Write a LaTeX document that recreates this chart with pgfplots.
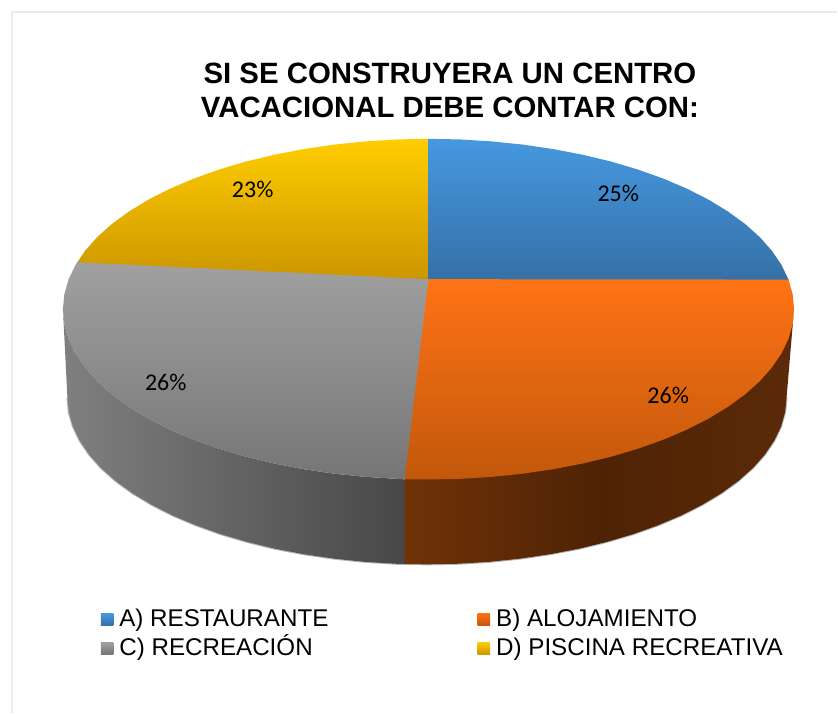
\documentclass[border=0pt]{standalone}
\usepackage{fontspec}
\setmainfont{Liberation Sans}
\newfontfamily\lblfont{Carlito}
\usepackage{pgfplots}
\pgfplotsset{compat=1.18}
\definecolor{frameC}{HTML}{E8EDF2}
\begin{document}
\begin{tikzpicture}
\begin{axis}[
  x=1pt,y=1pt,
  xmin=0,xmax=838,ymin=0,ymax=714,
  y dir=reverse,
  hide axis,clip=false,
  scale only axis,
  title={SI SE CONSTRUYERA UN CENTRO\\VACACIONAL DEBE CONTAR CON:},
  title style={at={(axis cs:450.5,96.5)},anchor=center,align=center,
    font=\fontsize{29.4}{35}\selectfont\bfseries,inner sep=0pt},
  legend columns=2,
  legend cell align=left,
  legend image code/.code={\path[#1] (0pt,0.8pt) rectangle (12.5pt,13.2pt);},
  legend style={at={(axis cs:101,609)},anchor=north west,draw=none,fill=none,
    font=\fontsize{24.2}{25}\selectfont,inner sep=0pt,outer sep=0pt,
    row sep=5pt,
    nodes={inner sep=0pt,outer sep=0pt,anchor=base west,text height=18pt,text depth=6pt},
    /tikz/every odd column/.append style={column sep=6pt},
    /tikz/column 2/.append style={column sep=149.5pt}},
]
% page and frame
\addplot[forget plot,draw=none,fill=white] coordinates {(0,0)(838,0)(838,714)(0,714)} -- cycle;
\addplot[forget plot,frameC,line width=2pt] coordinates {(12,714)(12,12)(838,12)};

% soft shadow under the side wall
\addplot[forget plot,draw=black!28,line width=2pt] coordinates {
(787.5,398)(786.1,412.6)(782,427)(775.2,441.2)(765.8,455.1)(753.8,468.6)(739.3,481.5)(722.4,493.8)(703.3,505.3)(682.1,516.1)(658.9,525.9)(634,534.8)(607.5,542.6)(579.6,549.4)(550.6,554.9)(520.7,559.3)(490,562.5)(458.9,564.4)(427.5,565)(396.1,564.4)(365,562.5)(334.3,559.3)(304.4,554.9)(275.4,549.4)(247.5,542.6)(221,534.8)(196.1,525.9)(172.9,516.1)(151.7,505.3)(132.6,493.8)(115.7,481.5)(101.2,468.6)(89.2,455.1)(79.8,441.2)(73,427)(68.9,412.6)(67.5,398)};

% side wall: recreacion
\addplot[forget plot,draw=none,left color=black!50!white,right color=black!72!white] coordinates {
(406,480)(397.1,479.4)(365.5,477.4)(334.3,474.2)(303.8,469.7)(274.3,464)(246,457.2)(219.1,449.2)(193.7,440.1)(170.2,430.1)(148.6,419.1)(129.2,407.3)(112,394.8)(97.3,381.6)(85.1,367.8)(75.5,353.6)(68.6,339.1)(64.4,324.4)(63,309.5)
(67.5,398)(68.9,412.6)(73,427)(79.8,441.2)(89.2,455.1)(101.2,468.6)(115.7,481.5)(132.6,493.8)(151.7,505.3)(172.9,516.1)(196.1,525.9)(221,534.8)(247.5,542.6)(275.4,549.4)(304.4,554.9)(334.3,559.3)(365,562.5)(396.1,564.4)(406,564.7)} -- cycle;

% side wall: alojamiento
\addplot[forget plot,draw=none,left color={rgb,255:red,112;green,50;blue,8},right color={rgb,255:red,92;green,42;blue,8},middle color={rgb,255:red,78;green,35;blue,5}] coordinates {
(405,479)(429,479)(460.9,478.4)(492.5,476.4)(523.7,473.2)(554.2,468.7)(583.7,463)(612,456.2)(638.9,448.2)(664.3,439.1)(687.8,429.1)(709.4,418.1)(728.8,406.3)(746,393.8)(760.7,380.6)(772.9,366.8)(782.5,352.6)(789.4,338.1)(793.6,323.4)(795,309.5)
(787.5,398)(786.1,412.6)(782,427)(775.2,441.2)(765.8,455.1)(753.8,468.6)(739.3,481.5)(722.4,493.8)(703.3,505.3)(682.1,516.1)(658.9,525.9)(634,534.8)(607.5,542.6)(579.6,549.4)(550.6,554.9)(520.7,559.3)(490,562.5)(458.9,564.4)(427.5,565)(405,564.7)} -- cycle;

% top: A) restaurante
\addplot[draw=none,top color={rgb,255:red,70;green,152;blue,224},bottom color={rgb,255:red,53;green,112;blue,166}] coordinates {
(428,281)(428,139)(429,139)(460.9,139.6)(492.5,141.6)(523.7,144.8)(554.2,149.3)(583.7,155)(612,161.8)(638.9,169.8)(664.3,178.9)(687.8,188.9)(709.4,199.9)(728.8,211.7)(746,224.25)(760.7,237.4)(772.9,251.2)(782.5,265.4)(789.4,279.9)(790,281)} -- cycle;
\addlegendentry{A) RESTAURANTE}

% top: B) alojamiento
\addplot[draw=none,top color={rgb,255:red,255;green,115;blue,21},bottom color={rgb,255:red,194;green,88;blue,12}] coordinates {
(428,279.5)(789.4,279.9)(793.6,294.6)(795,309.5)(793.6,324.4)(789.4,339.1)(782.5,353.6)(772.9,367.8)(760.7,381.6)(746,394.8)(728.8,407.3)(709.4,419.1)(687.8,430.1)(664.3,440.1)(638.9,449.2)(612,457.2)(583.7,464)(554.2,469.7)(523.7,474.2)(492.5,477.4)(460.9,479.4)(429,480)(404,480)} -- cycle;
\addlegendentry{B) ALOJAMIENTO}

% top: C) recreacion
\addplot[draw=none,top color=black!37!white,bottom color=black!54!white] coordinates {
(429,278.5)(429,279.5)(405,480)(397.1,479.4)(365.5,477.4)(334.3,474.2)(303.8,469.7)(274.3,464)(246,457.2)(219.1,449.2)(193.7,440.1)(170.2,430.1)(148.6,419.1)(129.2,407.3)(112,394.8)(97.3,381.6)(85.1,367.8)(75.5,353.6)(68.6,339.1)(64.4,324.4)(63,309.5)(64.4,294.6)(68.6,279.9)(75.5,265.4)(78,261.5)} -- cycle;
\addlegendentry{C) RECREACIÓN}

% top: D) piscina recreativa
\addplot[draw=none,top color={rgb,255:red,255;green,205;blue,0},bottom color={rgb,255:red,204;green,150;blue,0}] coordinates {
(429,279.5)(77.5,262.5)(85.1,251.2)(97.3,237.4)(112,224.25)(129.2,211.7)(148.6,199.9)(170.2,188.9)(193.7,178.9)(219.1,169.8)(246,161.8)(274.3,155)(303.8,149.3)(334.3,144.8)(365.5,141.6)(397.1,139.6)(429,139)} -- cycle;
\addlegendentry{D) PISCINA RECREATIVA}

% data labels
\addplot[forget plot,draw=none,mark=none,point meta=explicit symbolic,
  nodes near coords={\pgfplotspointmeta\%},
  nodes near coords style={anchor=center,inner sep=0pt,text=black,font=\lblfont\fontsize{24}{24}\selectfont}]
  coordinates {(619,194)[25] (669,396)[26] (166,383)[26] (253,190)[23]};
\end{axis}
\end{tikzpicture}
\end{document}
